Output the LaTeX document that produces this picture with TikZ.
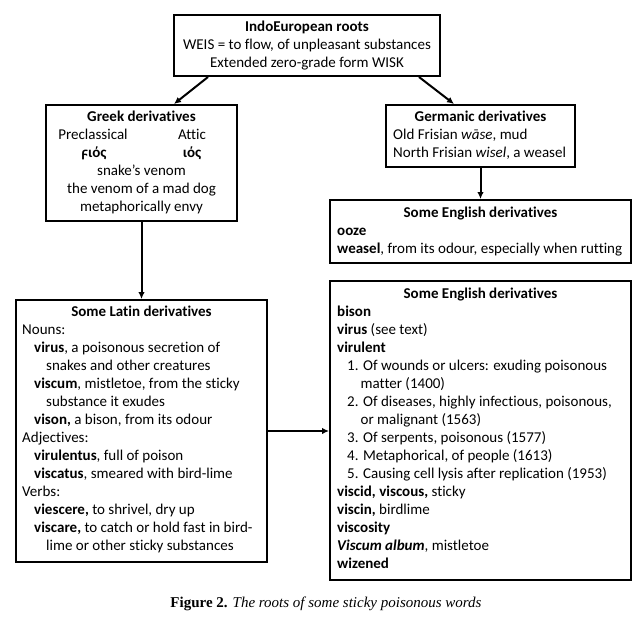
\documentclass[tikz,border=0pt]{standalone}
\usepackage{fontspec}
\setmainfont{Carlito}[Ligatures=NoCommon]
\newfontfamily\capfont{Liberation Serif}
\usetikzlibrary{arrows.meta}
\newcommand\firststrut{\rule{0pt}{12pt}}
\begin{document}
\begin{tikzpicture}[x=1pt,y=-1pt,
  box/.style={draw, line width=2pt, inner sep=0pt},
  arr/.style={line width=2pt, -{Latex[length=7pt,width=6.5pt]}},
  txt/.style={inner sep=0pt, font=\fontsize{15}{18}\selectfont},
  body/.style={txt, align=left, anchor=north west},
  cbody/.style={txt, align=center, anchor=north},
  ttl/.style={inner sep=0pt, font=\fontsize{15}{18}\selectfont\bfseries, anchor=base},
  one/.style={txt, anchor=base},
]
\fill[white] (0,0) rectangle (644,623);
\useasboundingbox (0,0) rectangle (644,623);

% boxes
\node[box, minimum width=266pt, minimum height=61pt] (root) at (307,45.5) {};
\node[box, minimum width=191pt, minimum height=116pt] (greek) at (141.5,163) {};
\node[box, minimum width=189pt, minimum height=62pt] (germ) at (480.5,136) {};
\node[box, minimum width=301pt, minimum height=63pt] (engA) at (480.5,231.5) {};
\node[box, minimum width=251pt, minimum height=262pt] (latin) at (141.5,431) {};
\node[box, minimum width=301pt, minimum height=299pt] (engB) at (480.5,430.5) {};

% root text
\node[cbody] (rootT) at (307,19.5) {\firststrut\textbf{IndoEuropean roots}\\WEIS = to flow, of unpleasant substances\\Extended zero-grade form WISK};

% greek text
\node[ttl] (greekT) at (141.5,121.5) {Greek derivatives};
\node[one] (precl) at (93,139.5) {Preclassical};
\node[one] (attic) at (192,139.5) {Attic};
\node[one] (wios) at (94,157.5) {\textbf{ϝιός}};
\node[one] (ios) at (192,157.5) {\textbf{ιός}};
\node[cbody] (greekB) at (141.5,163.5) {\firststrut snake’s venom\\the venom of a mad dog\\metaphorically envy};

% germanic text
\node[ttl] (germT) at (480.5,121.5) {Germanic derivatives};
\node[body] (germB) at (393,127.5) {\firststrut Old Frisian \textit{wāse}, mud\\North Frisian \textit{wisel}, a weasel};

% english A
\node[ttl] (engAT) at (480.5,217.5) {Some English derivatives};
\node[body] (engAB) at (337,223.5) {\firststrut\textbf{ooze}\\\textbf{weasel}, from its odour, especially when rutting};

% latin
\node[ttl] (latinT) at (141.5,316.5) {Some Latin derivatives};
\node[body] (latinB) at (22,322.5) {\firststrut Nouns:\\
\hspace*{12pt}\textbf{virus}, a poisonous secretion of\\
\hspace*{24pt}snakes and other creatures\\
\hspace*{12pt}\textbf{viscum}, mistletoe, from the sticky\\
\hspace*{24pt}substance it exudes\\
\hspace*{12pt}\textbf{vison,} a bison, from its odour\\
Adjectives:\\
\hspace*{12pt}\textbf{virulentus}, full of poison\\
\hspace*{12pt}\textbf{viscatus}, smeared with bird-lime\\
Verbs:\\
\hspace*{12pt}\textbf{viescere,} to shrivel, dry up\\
\hspace*{12pt}\textbf{viscare,} to catch or hold fast in bird-\\
\hspace*{24pt}lime or other sticky substances};

% english B
\node[ttl] (engBT) at (480.5,298) {Some English derivatives};
\node[body] (engBB) at (337,304.5) {\firststrut\textbf{bison}\\
\textbf{virus} (see text)\\
\textbf{virulent}\\
\hspace*{10pt}1. Of wounds or ulcers: exuding poisonous\\
\hspace*{23.5pt}matter (1400)\\
\hspace*{10pt}2. Of diseases, highly infectious, poisonous,\\
\hspace*{23.5pt}or malignant (1563)\\
\hspace*{10pt}3. Of serpents, poisonous (1577)\\
\hspace*{10pt}4. Metaphorical, of people (1613)\\
\hspace*{10pt}5. Causing cell lysis after replication (1953)\\
\textbf{viscid, viscous,} sticky\\
\textbf{viscin,} birdlime\\
\textbf{viscosity}\\
\textbf{\textit{Viscum album}}, mistletoe\\
\textbf{wizened}};

% caption
\node[inner sep=0pt, anchor=base] (cap) at (326,607) {\capfont\fontsize{15}{18}\selectfont\textbf{Figure 2.} \textit{The roots of some sticky poisonous words}};

% connectors
\draw[arr] ([xshift=35pt]root.south west) -- ([xshift=129pt]greek.north west);
\draw[arr] ([xshift=-22pt]root.south east) -- ([xshift=69pt]germ.north west);
\draw[arr] (greek.south) -- (latin.north);
\draw[arr] (germ.south) -- (engA.north);
\draw[arr] (latin.east) -- (latin.east -| engB.west);
\end{tikzpicture}
\end{document}
